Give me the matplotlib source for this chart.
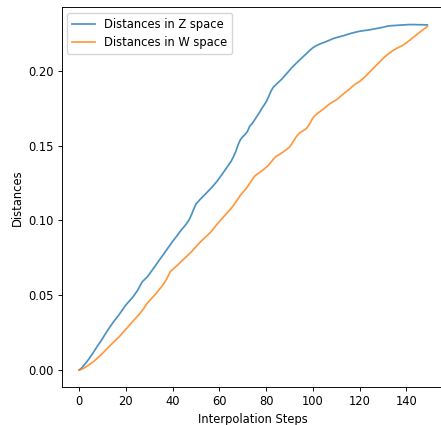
import matplotlib
matplotlib.use("Agg")
import matplotlib.pyplot as plt

steps = list(range(150))

dist_z = [
    0.0000, 0.0012, 0.0030, 0.0050, 0.0070, 0.0092, 0.0115, 0.0140, 0.0163, 0.0187,
    0.0210, 0.0236, 0.0260, 0.0284, 0.0306, 0.0328, 0.0348, 0.0368, 0.0390, 0.0412,
    0.0435, 0.0452, 0.0470, 0.0488, 0.0510, 0.0532, 0.0562, 0.0590, 0.0605, 0.0620,
    0.0640, 0.0662, 0.0684, 0.0705, 0.0728, 0.0750, 0.0772, 0.0793, 0.0815, 0.0838,
    0.0860, 0.0880, 0.0900, 0.0922, 0.0942, 0.0960, 0.0980, 0.1003, 0.1035, 0.1075,
    0.1110, 0.1128, 0.1145, 0.1160, 0.1176, 0.1192, 0.1208, 0.1225, 0.1243, 0.1262,
    0.1283, 0.1305, 0.1328, 0.1350, 0.1372, 0.1395, 0.1425, 0.1460, 0.1505, 0.1540,
    0.1560, 0.1575, 0.1595, 0.1630, 0.1648, 0.1670, 0.1695, 0.1718, 0.1745, 0.1768,
    0.1792, 0.1825, 0.1862, 0.1890, 0.1905, 0.1920, 0.1935, 0.1950, 0.1968, 0.1985,
    0.2003, 0.2022, 0.2038, 0.2053, 0.2068, 0.2083, 0.2098, 0.2112, 0.2127, 0.2142,
    0.2155, 0.2165, 0.2173, 0.2180, 0.2186, 0.2192, 0.2198, 0.2205, 0.2212, 0.2218,
    0.2223, 0.2227, 0.2231, 0.2235, 0.2240, 0.2245, 0.2250, 0.2254, 0.2258, 0.2262,
    0.2265, 0.2268, 0.2270, 0.2272, 0.2274, 0.2277, 0.2280, 0.2283, 0.2286, 0.2289,
    0.2292, 0.2296, 0.2300, 0.2302, 0.2303, 0.2304, 0.2305, 0.2306, 0.2307, 0.2308,
    0.2309, 0.2310, 0.2310, 0.2310, 0.2310, 0.2309, 0.2309, 0.2309, 0.2308, 0.2308,
]

dist_w = [
    0.0000, 0.0005, 0.0012, 0.0022, 0.0032, 0.0043, 0.0055, 0.0068, 0.0082, 0.0096,
    0.0112, 0.0128, 0.0145, 0.0160, 0.0175, 0.0190, 0.0205, 0.0220, 0.0238, 0.0255,
    0.0272, 0.0290, 0.0308, 0.0326, 0.0343, 0.0360, 0.0378, 0.0398, 0.0420, 0.0445,
    0.0462, 0.0478, 0.0495, 0.0513, 0.0532, 0.0552, 0.0573, 0.0597, 0.0625, 0.0658,
    0.0672, 0.0686, 0.0700, 0.0715, 0.0730, 0.0745, 0.0760, 0.0775, 0.0790, 0.0808,
    0.0825, 0.0842, 0.0858, 0.0873, 0.0888, 0.0903, 0.0918, 0.0935, 0.0955, 0.0975,
    0.0993, 0.1010, 0.1028, 0.1045, 0.1062, 0.1080, 0.1100, 0.1122, 0.1145, 0.1168,
    0.1188, 0.1205, 0.1225, 0.1248, 0.1272, 0.1295, 0.1308, 0.1318, 0.1330, 0.1342,
    0.1355, 0.1370, 0.1388, 0.1408, 0.1425, 0.1435, 0.1445, 0.1455, 0.1466, 0.1478,
    0.1492, 0.1512, 0.1538, 0.1562, 0.1580, 0.1593, 0.1602, 0.1612, 0.1630, 0.1658,
    0.1685, 0.1703, 0.1716, 0.1728, 0.1740, 0.1752, 0.1765, 0.1778, 0.1788, 0.1797,
    0.1806, 0.1818, 0.1832, 0.1846, 0.1858, 0.1870, 0.1883, 0.1897, 0.1910, 0.1920,
    0.1930, 0.1943, 0.1957, 0.1972, 0.1988, 0.2004, 0.2020, 0.2036, 0.2052, 0.2068,
    0.2083, 0.2097, 0.2110, 0.2122, 0.2133, 0.2143, 0.2152, 0.2160, 0.2168, 0.2177,
    0.2188, 0.2200, 0.2212, 0.2225, 0.2237, 0.2250, 0.2262, 0.2274, 0.2286, 0.2298,
]

# reference looks like a downscaled default figure, so shrink everything a bit
s = 0.83
plt.rcParams["font.size"] = 10 * s
plt.rcParams["axes.linewidth"] = 0.8 * s
plt.rcParams["axes.labelpad"] = 4.0 * s
for a in ("xtick", "ytick"):
    plt.rcParams[a + ".major.size"] = 3.5 * s
    plt.rcParams[a + ".major.width"] = 0.8 * s
    plt.rcParams[a + ".major.pad"] = 3.5 * s

fig = plt.figure(figsize=(4.41, 4.25), dpi=100)
ax = fig.add_axes([0.1399, 0.0887, 0.8687, 0.8941])
ax.plot(steps, dist_z, color="tab:blue", linewidth=1.5 * s, alpha=0.8, label="Distances in Z space")
ax.plot(steps, dist_w, color="tab:orange", linewidth=1.5 * s, alpha=0.8, label="Distances in W space")
ax.set_xlabel("Interpolation Steps")
ax.set_ylabel("Distances")
ax.legend(loc="upper left")

fig.savefig("out.png", dpi=100)
